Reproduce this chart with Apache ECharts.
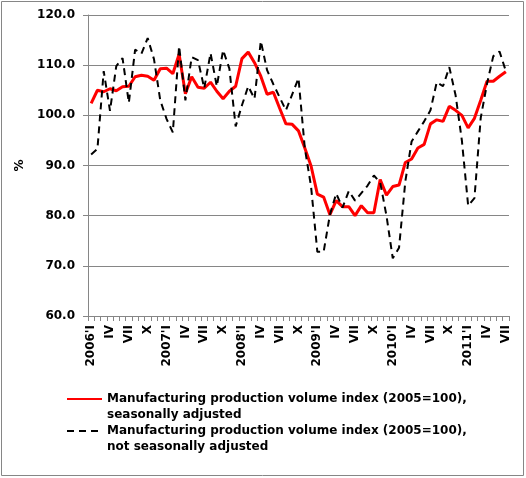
<!DOCTYPE html>
<html>
<head>
<meta charset="utf-8">
<script src="https://cdn.jsdelivr.net/npm/echarts@6/dist/echarts.min.js"></script>
<style>
  html, body { margin: 0; padding: 0; background: #fff; }
  #chart { width: 526px; height: 478px; }
</style>
</head>
<body>
<div id="chart"></div>
<script>
// months 2006 I .. 2011 VII
var years = [2006, 2007, 2008, 2009, 2010, 2011];
var months = ['I', 'II', 'III', 'IV', 'V', 'VI', 'VII', 'VIII', 'IX', 'X', 'XI', 'XII'];
var lastMonthCount = 7;

var seasonallyAdjusted = [
  102.4, 105.0, 104.7, 105.3, 104.9, 105.7, 105.8, 107.7, 108.0, 107.8, 107.0, 109.3,
  109.4, 108.3, 112.2, 104.3, 107.7, 105.6, 105.4, 106.6, 104.8, 103.3, 104.8, 105.8,
  111.3, 112.6, 110.5, 107.8, 104.2, 104.6, 101.4, 98.3, 98.2, 96.9, 93.5, 89.9,
  84.3, 83.7, 80.2, 83.0, 81.8, 81.8, 80.0, 82.0, 80.6, 80.6, 87.2, 84.1,
  85.8, 86.1, 90.6, 91.3, 93.5, 94.2, 98.3, 99.1, 98.8, 101.8, 101.0, 100.0,
  97.5, 99.4, 103.0, 106.8, 106.8, 107.8, 108.7
];
var notAdjusted = [
  92.2, 93.3, 108.8, 100.9, 109.8, 111.4, 102.5, 113.1, 112.3, 115.4, 111.2, 103.0,
  99.3, 96.6, 113.8, 103.0, 111.6, 111.0, 105.4, 112.4, 105.8, 113.0, 109.3, 97.8,
  102.0, 105.8, 103.3, 114.8, 109.0, 106.2, 103.6, 101.0, 104.2, 107.4, 93.5, 85.8,
  72.8, 72.8, 80.2, 84.4, 81.6, 84.9, 83.0, 84.5, 86.0, 88.0, 86.6, 80.0,
  71.5, 73.6, 86.8, 94.8, 96.8, 98.8, 101.0, 106.6, 105.8, 109.6, 104.0, 95.0,
  82.0, 83.5, 99.5, 106.3, 111.8, 112.7, 108.8
];
var yTicks = [60, 70, 80, 90, 100, 110, 120];

var nameSA = 'Manufacturing production volume index (2005=100),\nseasonally adjusted';
var nameNSA = 'Manufacturing production volume index (2005=100),\nnot seasonally adjusted';

var categories = [];
years.forEach(function (y, yi) {
  var n = (yi === years.length - 1) ? lastMonthCount : 12;
  for (var m = 0; m < n; m++) {
    categories.push(m === 0 ? y + "'" + months[m] : months[m]);
  }
});

var font = 'DejaVu Sans';
var gray = '#868686';

// legend: icon sits on the first text line (empty line above keeps it centred)
function legendOpt(name, top) {
  return {
    data: [name],
    left: 66, top: top,
    padding: 0,
    orient: 'vertical',
    itemWidth: 35, itemHeight: 10, itemGap: 5,
    itemStyle: { opacity: 0 },
    formatter: function (n) { return ' \n' + n; },
    textStyle: { fontFamily: font, fontWeight: 'bold', fontSize: 12, color: '#000', lineHeight: 16 }
  };
}

var myChart = echarts.init(document.getElementById('chart'));
myChart.setOption({
  animation: false,
  textStyle: { fontFamily: font },
  graphic: [{
    type: 'rect',
    shape: { x: 1.5, y: 1.5, width: 522, height: 474 },
    style: { fill: 'none', stroke: gray, lineWidth: 1 },
    silent: true
  }],
  grid: { left: 88, right: 17, top: 15, bottom: 162 },
  legend: [legendOpt(nameSA, 375), legendOpt(nameNSA, 407)],
  xAxis: {
    type: 'category',
    data: categories,
    boundaryGap: true,
    axisLine: { lineStyle: { color: gray, width: 1 } },
    axisTick: { show: true, interval: 0, length: 5, lineStyle: { color: gray } },
    axisLabel: {
      interval: 2,
      rotate: 90,
      margin: 9,
      fontFamily: font,
      fontWeight: 'bold',
      fontSize: 12,
      color: '#000'
    },
    splitLine: { show: false }
  },
  yAxis: {
    type: 'value',
    min: yTicks[0],
    max: yTicks[yTicks.length - 1],
    interval: 10,
    name: '%',
    nameLocation: 'middle',
    nameRotate: 90,
    nameGap: 51,
    nameTextStyle: { fontFamily: font, fontWeight: 'bold', fontSize: 12, color: '#000' },
    axisLine: { show: true, lineStyle: { color: gray, width: 1 } },
    axisTick: { show: true, length: 5, lineStyle: { color: gray } },
    axisLabel: {
      margin: 13,
      fontFamily: font,
      fontWeight: 'bold',
      fontSize: 12,
      color: '#000',
      formatter: function (v) { return v.toFixed(1); }
    },
    splitLine: { show: true, lineStyle: { color: gray, width: 1 } }
  },
  series: [
    {
      name: nameSA,
      type: 'line',
      data: seasonallyAdjusted,
      symbol: 'none',
      lineStyle: { color: '#ff0000', width: 3 },
      itemStyle: { color: '#ff0000' }
    },
    {
      name: nameNSA,
      type: 'line',
      data: notAdjusted,
      symbol: 'none',
      lineStyle: { color: '#000000', width: 2, type: [7, 5] },
      itemStyle: { color: '#000000' }
    }
  ]
});
</script>
</body>
</html>
